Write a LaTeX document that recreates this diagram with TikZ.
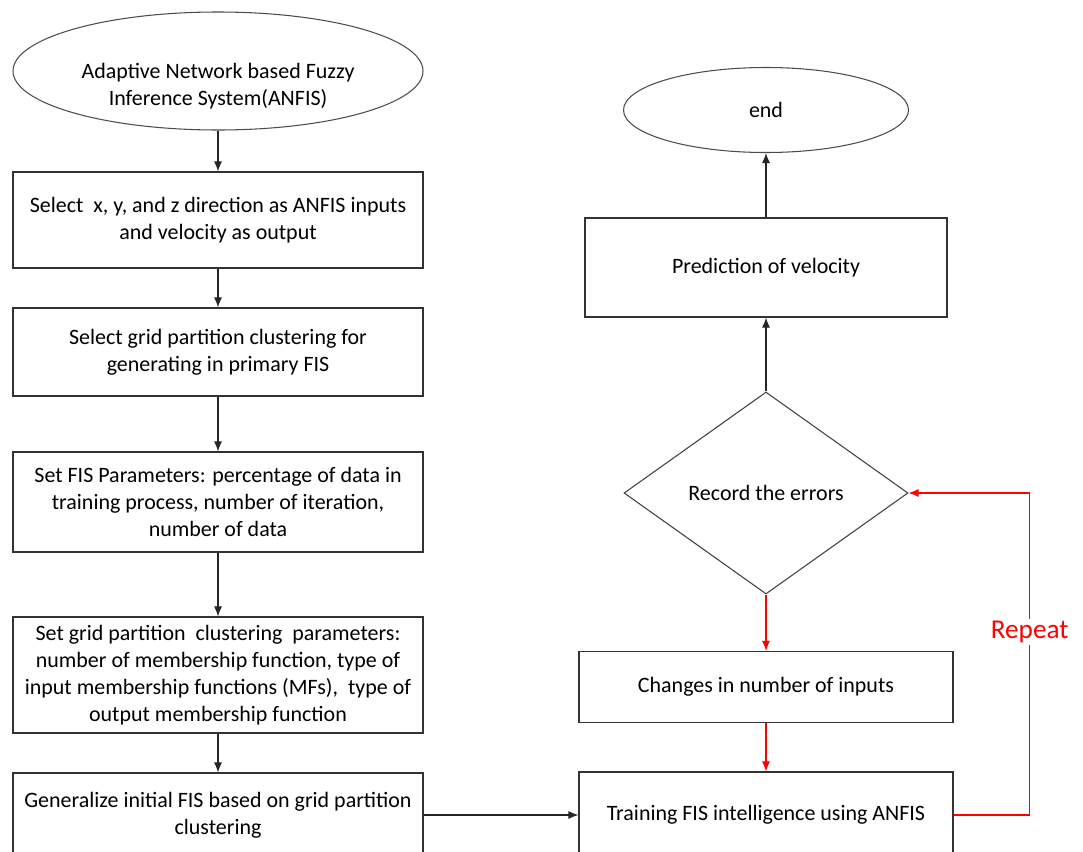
\documentclass[tikz,border=0pt]{standalone}
\usepackage{fontspec}
\setmainfont{Carlito}
\usetikzlibrary{shapes.geometric,arrows.meta}

\tikzset{
  box/.style={draw=black!80, line width=0.7pt, rectangle, align=center,
    minimum width=82mm, inner sep=2pt, font=\fontsize{12.5}{15.3}\selectfont},
  term/.style={draw=black!70, line width=0.6pt, ellipse, align=center,
    inner sep=0pt, font=\fontsize{12.5}{15.3}\selectfont},
  decision/.style={draw=black!75, line width=0.6pt, diamond, aspect=1.4,
    inner sep=0pt, minimum width=56.8mm, minimum height=40.4mm,
    font=\fontsize{12.5}{15.3}\selectfont},
  arr/.style={draw=black!85, line width=0.6pt, -{Latex[length=2mm,width=1.6mm]}},
  redarr/.style={draw=red, line width=0.6pt, -{Latex[length=2mm,width=1.6mm]}}
}

\begin{document}
\begin{tikzpicture}[x=0.2mm,y=-0.2mm]
  \useasboundingbox (0,0) rectangle (1083,851);
  \clip (0,0) rectangle (1083,851);

  % left column
  \node[term, minimum width=82mm, minimum height=23.6mm] (anfis) at (218,71)
    {\raisebox{-4.1mm}[0pt][0pt]{\begin{tabular}{@{}c@{}}Adaptive Network based Fuzzy\\Inference System(ANFIS)\end{tabular}}};
  \node[box, minimum height=19.2mm] (inputs) at (218,220)
    {Select\ \ x, y, and z direction as ANFIS inputs\\and velocity as output};
  \node[box, minimum height=17.6mm] (grid) at (218,352)
    {Select grid partition clustering for\\generating in primary FIS};
  \node[box, minimum height=20mm] (params) at (218,502)
    {Set FIS Parameters: percentage of data in\\training process, number of iteration,\\number of data};
  \node[box, minimum height=23.2mm] (gridpar) at (218,675)
    {Set grid partition\ \ clustering\ \ parameters:\\number of membership function, type of\\input membership functions (MFs),\ \ type of\\output membership function};
  \node[box, minimum height=16.8mm] (initfis) at (218,815)
    {Generalize initial FIS based on grid partition\\clustering};

  % right column
  \node[box, minimum width=74.8mm, minimum height=17.2mm] (train) at (766,815)
    {Training FIS intelligence using ANFIS};
  \node[box, minimum width=74.8mm, minimum height=14.2mm] (changes) at (766,687)
    {Changes in number of inputs};
  \node[decision] (errors) at (766,493) {Record the errors};
  \node[box, minimum width=72.4mm, minimum height=19.8mm] (predict) at (766,267.5)
    {Prediction of velocity};
  \node[term, minimum width=57mm, minimum height=17mm] (stop) at (766,110) {end};

  \draw[arr] (anfis) -- (inputs);
  \draw[arr] (inputs) -- (grid);
  \draw[arr] (grid) -- (params);
  \draw[arr] (params) -- (gridpar);
  \draw[arr] (gridpar) -- (initfis);
  \draw[arr] (initfis) -- (train);

  \draw[redarr] (errors) -- (changes);
  \draw[redarr] (changes) -- (train);
  \draw[redarr] (train.east) -- ++(76,0) |- (errors.east)
    node[pos=0.284, fill=white, text=red, inner sep=1pt,
         font=\fontsize{15.5}{18}\selectfont] {Repeat};

  \draw[arr] (errors) -- (predict);
  \draw[arr] (predict) -- (stop);
\end{tikzpicture}
\end{document}
